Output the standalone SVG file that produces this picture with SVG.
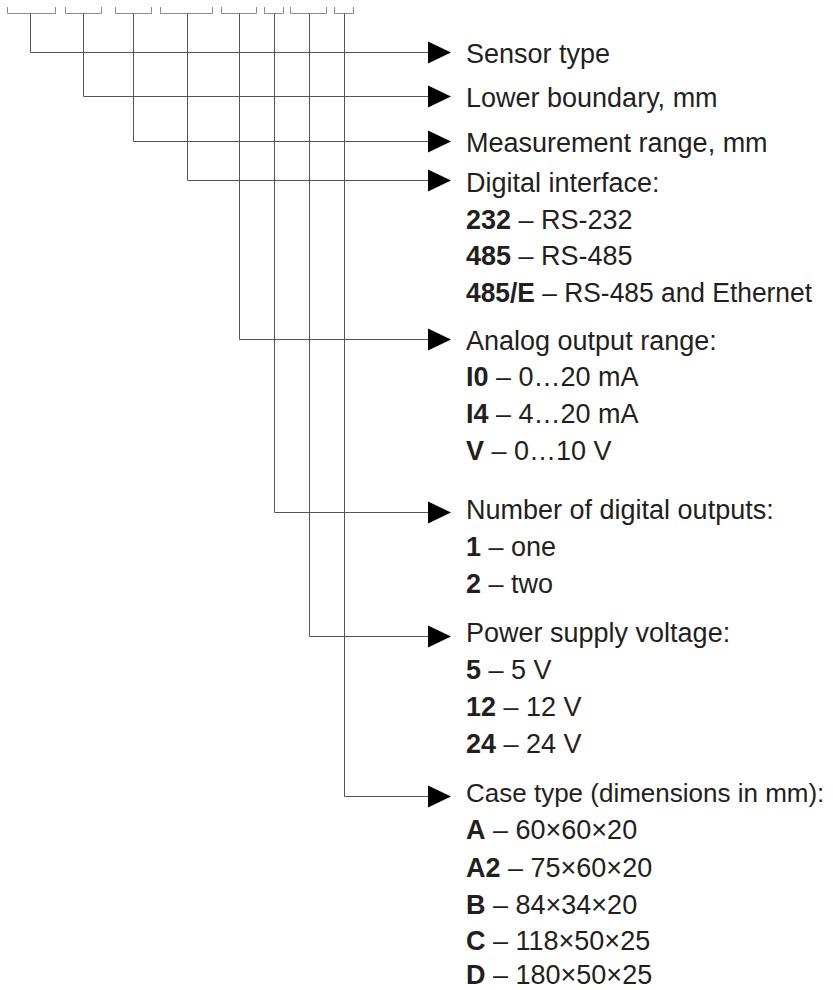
<svg xmlns="http://www.w3.org/2000/svg" width="833" height="990" viewBox="0 0 833 990">
<style>
.br{fill:none;stroke:#8a8a8a;stroke-width:1}
.ln{fill:none;stroke:#555;stroke-width:1}
.ah{fill:#000}
.t{font-family:"Liberation Sans",Arial,sans-serif;font-size:27px;fill:#231f20}
.b{font-weight:bold}
</style>
<rect width="833" height="990" fill="#fff"/>
<g id="brackets">
<path class="br" d="M7.5,7V13.5H55.5V7"/>
<path class="br" d="M65.5,7V13.5H101.5V7"/>
<path class="br" d="M115.5,7V13.5H151.5V7"/>
<path class="br" d="M160.5,7V13.5H212.5V7"/>
<path class="br" d="M221.5,7V13.5H256.5V7"/>
<path class="br" d="M264.5,7V13.5H283.5V7"/>
<path class="br" d="M290.5,7V13.5H326.5V7"/>
<path class="br" d="M334.5,7V13.5H353.5V7"/>
</g>
<g id="connectors">
<path class="ln" d="M30.5,13.5V52.5H428"/>
<path class="ln" d="M83.5,13.5V96.5H428"/>
<path class="ln" d="M133.5,13.5V141.5H428"/>
<path class="ln" d="M187.5,13.5V180.5H428"/>
<path class="ln" d="M239.5,13.5V339.5H428"/>
<path class="ln" d="M274.5,13.5V512.5H428"/>
<path class="ln" d="M309.5,13.5V636.5H428"/>
<path class="ln" d="M344.5,13.5V796.5H428"/>
<polygon class="ah" points="428,41.5 451,52.5 428,63.5"/>
<polygon class="ah" points="428,85.5 451,96.5 428,107.5"/>
<polygon class="ah" points="428,130.5 451,141.5 428,152.5"/>
<polygon class="ah" points="428,169.5 451,180.5 428,191.5"/>
<polygon class="ah" points="428,328.5 451,339.5 428,350.5"/>
<polygon class="ah" points="428,501.5 451,512.5 428,523.5"/>
<polygon class="ah" points="428,625.5 451,636.5 428,647.5"/>
<polygon class="ah" points="428,785.5 451,796.5 428,807.5"/>
</g>
<g id="sensor-type"><text class="t" x="466" y="63">Sensor type</text></g>
<g id="lower-boundary"><text class="t" x="466" y="106.5">Lower boundary, mm</text></g>
<g id="measurement-range"><text class="t" x="466" y="152">Measurement range, mm</text></g>
<g id="digital-interface">
<text class="t" x="466" y="191.5">Digital interface:</text>
<text class="t" x="466" y="228.5"><tspan class="b">232</tspan> – RS-232</text>
<text class="t" x="466" y="265"><tspan class="b">485</tspan> – RS-485</text>
<text class="t" x="466" y="301.5" textLength="346" lengthAdjust="spacingAndGlyphs"><tspan class="b">485/E</tspan> – RS-485 and Ethernet</text>
</g>
<g id="analog-output">
<text class="t" x="466" y="349.5">Analog output range:</text>
<text class="t" x="466" y="386"><tspan class="b">I0</tspan> – 0…20 mA</text>
<text class="t" x="466" y="423"><tspan class="b">I4</tspan> – 4…20 mA</text>
<text class="t" x="466" y="460"><tspan class="b">V</tspan> – 0…10 V</text>
</g>
<g id="digital-outputs">
<text class="t" x="466" y="518.5">Number of digital outputs:</text>
<text class="t" x="466" y="555.5"><tspan class="b">1</tspan> – one</text>
<text class="t" x="466" y="592.5"><tspan class="b">2</tspan> – two</text>
</g>
<g id="power-supply">
<text class="t" x="466" y="641.5">Power supply voltage:</text>
<text class="t" x="466" y="678.5"><tspan class="b">5</tspan> – 5 V</text>
<text class="t" x="466" y="716"><tspan class="b">12</tspan> – 12 V</text>
<text class="t" x="466" y="753"><tspan class="b">24</tspan> – 24 V</text>
</g>
<g id="case-type">
<text class="t" x="466" y="801.5" style="font-size:26px">Case type (dimensions in mm):</text>
<text class="t" x="466" y="839"><tspan class="b">A</tspan> – 60×60×20</text>
<text class="t" x="466" y="876.5"><tspan class="b">A2</tspan> – 75×60×20</text>
<text class="t" x="466" y="913.5"><tspan class="b">B</tspan> – 84×34×20</text>
<text class="t" x="466" y="950"><tspan class="b">C</tspan> – 118×50×25</text>
<text class="t" x="466" y="984"><tspan class="b">D</tspan> – 180×50×25</text>
</g>
</svg>
